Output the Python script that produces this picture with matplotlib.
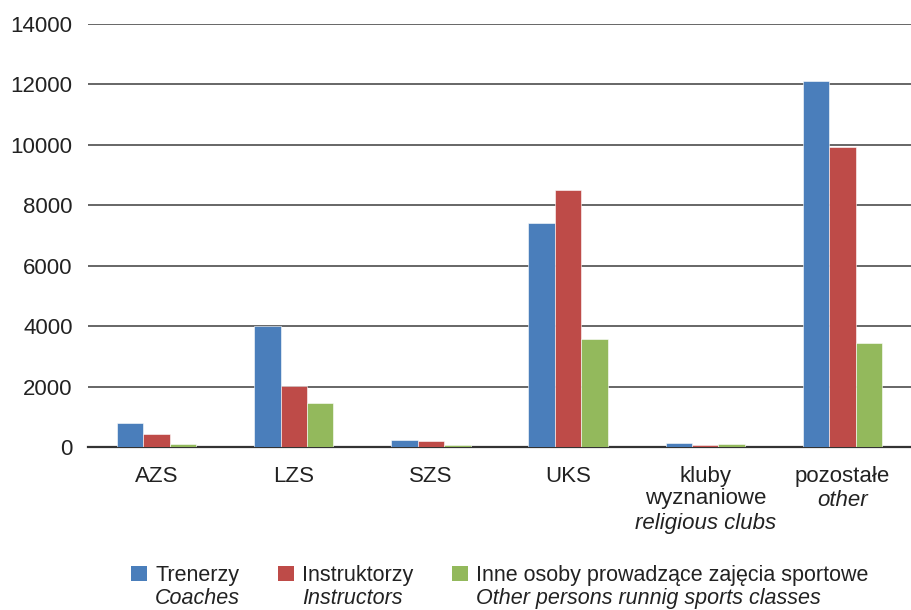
import numpy as np
import matplotlib
matplotlib.use("Agg")
import matplotlib.pyplot as plt
from matplotlib.patches import Patch
import matplotlib.transforms as mtransforms

plt.rcParams["font.family"] = ["Liberation Sans", "DejaVu Sans"]

categories = ["AZS", "LZS", "SZS", "UKS", "kluby\nwyznaniowe", "pozostałe"]
categories_en = ["", "", "", "", "religious clubs", "other"]

trenerzy = [805, 4000, 220, 7420, 130, 12110]
instruktorzy = [430, 2020, 190, 8500, 80, 9920]
inne = [120, 1450, 75, 3580, 100, 3460]

series = [trenerzy, instruktorzy, inne]
series_pl = ["Trenerzy", "Instruktorzy", "Inne osoby prowadzące zajęcia sportowe"]
series_en = ["Coaches", "Instructors", "Other persons runnig sports classes"]
colors = ["#4a7ebb", "#be4b48", "#93b95c"]

FS = 16
LFS = 15.5
fig = plt.figure(figsize=(9.11, 6.10), dpi=100)
ax = fig.add_axes([0.0966, 0.267, 0.9034, 0.694])

x = np.arange(len(categories))
w = 0.193
for i, (vals, c) in enumerate(zip(series, colors)):
    ax.bar(x + (i - 1) * w, vals, width=w, color=c, edgecolor="white",
           linewidth=0.4, zorder=3)

ax.set_xlim(-0.5, len(categories) - 0.5)
ax.set_ylim(0, 14000)
ax.set_yticks(np.arange(0, 14001, 2000))
ax.yaxis.grid(True, color="#5a5a5a", lw=1.3, zorder=0)
ax.set_axisbelow(True)
for s in ("top", "right", "left"):
    ax.spines[s].set_visible(False)
ax.spines["bottom"].set_color("#333333")
ax.spines["bottom"].set_linewidth(1.6)
ax.tick_params(axis="y", length=0, pad=11, labelsize=FS, colors="#222222")
ax.tick_params(axis="x", length=0)
ax.set_xticks([])

# category labels: Polish plain, English italic below
trans = mtransforms.blended_transform_factory(ax.transData, ax.transAxes)
for xi, pl, en in zip(x, categories, categories_en):
    t = ax.text(xi, -0.044, pl, transform=trans, ha="center", va="top",
                fontsize=FS, color="#222222", linespacing=1.1)
    if en:
        ax.annotate(en, xy=(0.5, 0), xycoords=t, xytext=(0, -2.5),
                    textcoords="offset points", ha="center", va="top",
                    fontsize=FS, style="italic", color="#222222")

# legend: top line in legend, italic English line below each entry
handles = [Patch(facecolor=c, edgecolor="none") for c in colors]
leg = fig.legend(handles, series_pl, loc="upper left",
                 bbox_to_anchor=(0.144, 0.074), ncol=3, frameon=False,
                 fontsize=LFS, handlelength=0.74, handleheight=0.74,
                 handletextpad=0.38, columnspacing=1.8, borderaxespad=0,
                 borderpad=0)
for t in leg.get_texts():
    t.set_color("#222222")

fig.canvas.draw()
inv = fig.transFigure.inverted()
for t, en in zip(leg.get_texts(), series_en):
    bb = t.get_window_extent()
    x0, y0 = inv.transform((bb.x0, bb.y0))
    fig.text(x0, y0 - 0.004, en, ha="left", va="top", fontsize=LFS,
             style="italic", color="#222222")

fig.savefig("out.png", dpi=100)
